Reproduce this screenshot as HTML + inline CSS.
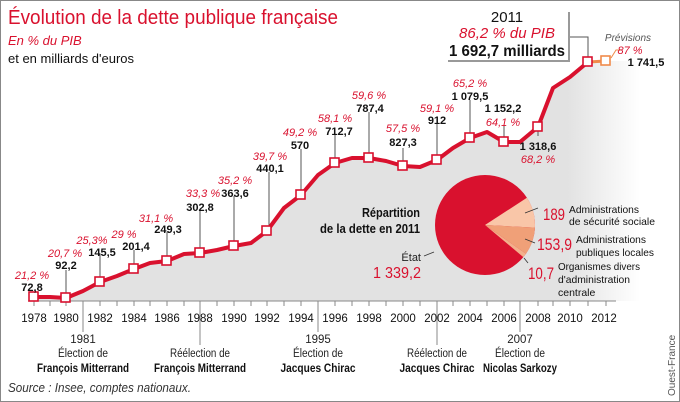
<!DOCTYPE html>
<html><head><meta charset="utf-8"><style>
body{margin:0;background:#fff}
svg{display:block;font-family:"Liberation Sans",sans-serif}
.p{fill:#d9112e;font-style:italic;font-size:11px}
.v{fill:#111;font-weight:bold;font-size:11px}
.y{font-size:11.5px;fill:#111}
.e{font-size:11.5px;fill:#222;text-anchor:middle}
.eb{font-size:11.5px;fill:#111;font-weight:bold;text-anchor:middle}
.s{font-size:10.5px;fill:#111}
</style></head><body>
<svg width="680" height="402" viewBox="0 0 680 402">
<defs>
<linearGradient id="g" x1="0" x2="1" y1="0" y2="0" gradientUnits="objectBoundingBox">
<stop offset="0" stop-color="#e2e2e2"/><stop offset="0.88" stop-color="#e2e2e2"/><stop offset="1" stop-color="#fff"/>
</linearGradient>
</defs>
<rect x="0.5" y="0.5" width="679" height="401" fill="#fff" stroke="#888"/>
<path d="M34,297 L50,297 66,298 83,291 100,282 117,276 134,269 150,263 167,261 184,254 200,253 217,250 234,246 251,243 267,231 284,208 301,195 318,175 335,163 352,158 369,158 386,161 403,166 420,167 437,160 453,148 470,138 487,132 504,142 520,142 538,127 553,88 570,77 588,62 606,61 640,61 640,301 34,301Z" fill="url(#g)"/>
<line x1="28" y1="301" x2="616" y2="301" stroke="#888" stroke-width="1"/>
<g stroke="#888" stroke-width="1">
<line x1="34" y1="301" x2="34" y2="306"/><line x1="50" y1="301" x2="50" y2="306"/><line x1="66" y1="301" x2="66" y2="306"/><line x1="100" y1="301" x2="100" y2="306"/><line x1="117" y1="301" x2="117" y2="306"/><line x1="134" y1="301" x2="134" y2="306"/><line x1="150" y1="301" x2="150" y2="306"/><line x1="167" y1="301" x2="167" y2="306"/><line x1="184" y1="301" x2="184" y2="306"/><line x1="217" y1="301" x2="217" y2="306"/><line x1="234" y1="301" x2="234" y2="306"/><line x1="251" y1="301" x2="251" y2="306"/><line x1="267" y1="301" x2="267" y2="306"/><line x1="284" y1="301" x2="284" y2="306"/><line x1="301" y1="301" x2="301" y2="306"/><line x1="335" y1="301" x2="335" y2="306"/><line x1="352" y1="301" x2="352" y2="306"/><line x1="369" y1="301" x2="369" y2="306"/><line x1="386" y1="301" x2="386" y2="306"/><line x1="403" y1="301" x2="403" y2="306"/><line x1="420" y1="301" x2="420" y2="306"/><line x1="453" y1="301" x2="453" y2="306"/><line x1="470" y1="301" x2="470" y2="306"/><line x1="487" y1="301" x2="487" y2="306"/><line x1="504" y1="301" x2="504" y2="306"/><line x1="538" y1="301" x2="538" y2="306"/><line x1="553" y1="301" x2="553" y2="306"/><line x1="570" y1="301" x2="570" y2="306"/><line x1="588" y1="301" x2="588" y2="306"/><line x1="606" y1="301" x2="606" y2="306"/>
<line x1="83" y1="301" x2="83" y2="332"/><line x1="200" y1="301" x2="200" y2="345"/><line x1="318" y1="301" x2="318" y2="332"/><line x1="437" y1="301" x2="437" y2="345"/><line x1="520" y1="301" x2="520" y2="332"/>
</g>
<g class="y" text-anchor="middle">
<text x="34" y="322">1978</text><text x="66" y="322">1980</text><text x="100" y="322">1982</text><text x="134" y="322">1984</text><text x="167" y="322">1986</text><text x="200" y="322">1988</text><text x="234" y="322">1990</text><text x="267" y="322">1992</text><text x="301" y="322">1994</text><text x="335" y="322">1996</text><text x="369" y="322">1998</text><text x="403" y="322">2000</text><text x="437" y="322">2002</text><text x="470" y="322">2004</text><text x="504" y="322">2006</text><text x="538" y="322">2008</text><text x="570" y="322">2010</text><text x="604" y="322">2012</text>
</g>
<text class="e" x="83" y="343" fill="#111">1981</text><text class="e" x="83" y="357" textLength="50" lengthAdjust="spacingAndGlyphs">Élection de</text><text class="eb" x="83" y="372" textLength="92" lengthAdjust="spacingAndGlyphs">François Mitterrand</text>
<text class="e" x="200" y="357" textLength="60" lengthAdjust="spacingAndGlyphs">Réélection de</text><text class="eb" x="200" y="372" textLength="92" lengthAdjust="spacingAndGlyphs">François Mitterrand</text>
<text class="e" x="318" y="343">1995</text><text class="e" x="318" y="357" textLength="50" lengthAdjust="spacingAndGlyphs">Élection de</text><text class="eb" x="318" y="372" textLength="75" lengthAdjust="spacingAndGlyphs">Jacques Chirac</text>
<text class="e" x="437" y="357" textLength="60" lengthAdjust="spacingAndGlyphs">Réélection de</text><text class="eb" x="437" y="372" textLength="75" lengthAdjust="spacingAndGlyphs">Jacques Chirac</text>
<text class="e" x="520" y="343">2007</text><text class="e" x="520" y="357" textLength="50" lengthAdjust="spacingAndGlyphs">Élection de</text><text class="eb" x="520" y="372" textLength="74" lengthAdjust="spacingAndGlyphs">Nicolas Sarkozy</text>
<g stroke="#555" stroke-width="1">
<line x1="66" y1="270" x2="66" y2="294"/><line x1="100" y1="254" x2="100" y2="278"/><line x1="134" y1="250" x2="134" y2="265"/><line x1="167" y1="232" x2="167" y2="257"/><line x1="200" y1="211" x2="200" y2="249"/><line x1="234" y1="196" x2="234" y2="242"/><line x1="269" y1="172" x2="269" y2="227"/><line x1="301" y1="149" x2="301" y2="191"/><line x1="335" y1="133" x2="335" y2="159"/><line x1="369" y1="112" x2="369" y2="154"/><line x1="403" y1="148" x2="403" y2="162"/><line x1="437" y1="124" x2="437" y2="156"/><line x1="470" y1="100" x2="470" y2="134"/><line x1="504" y1="126" x2="504" y2="138"/><line x1="538" y1="131" x2="538" y2="136"/>
<polyline points="568,37 588,37 588,58" fill="none"/>
</g>
<polyline points="611,58 616,50 622,50" fill="none" stroke="#f08a4a" stroke-width="1"/>
<polyline points="34,297 50,297 66,298 83,291 100,282 117,276 134,269 150,263 167,261 184,254 200,253 217,250 234,246 251,243 267,231 284,208 301,195 318,175 335,163 352,158 369,158 386,161 403,166 420,167 437,160 453,148 470,138 487,132 504,142 520,142 538,127 553,88 570,77 588,62" fill="none" stroke="#d9112e" stroke-width="4" stroke-linejoin="round"/>
<line x1="588" y1="62" x2="606" y2="61" stroke="#f08a4a" stroke-width="3"/>
<g fill="#fff" stroke="#d9112e" stroke-width="1.6">
<rect x="29" y="292" width="9" height="9"/><rect x="61" y="293" width="9" height="9"/><rect x="95" y="277" width="9" height="9"/><rect x="129" y="264" width="9" height="9"/><rect x="162" y="256" width="9" height="9"/><rect x="195" y="248" width="9" height="9"/><rect x="229" y="241" width="9" height="9"/><rect x="262" y="226" width="9" height="9"/><rect x="296" y="190" width="9" height="9"/><rect x="330" y="158" width="9" height="9"/><rect x="364" y="153" width="9" height="9"/><rect x="398" y="161" width="9" height="9"/><rect x="432" y="155" width="9" height="9"/><rect x="465" y="133" width="9" height="9"/><rect x="499" y="137" width="9" height="9"/><rect x="533" y="122" width="9" height="9"/><rect x="583" y="57" width="9" height="9"/>
</g>
<rect x="601" y="56" width="9" height="9" fill="#fff" stroke="#f08a4a" stroke-width="1.6"/>
<g text-anchor="middle">
<text class="p" x="32" y="279">21,2 %</text><text class="v" x="32" y="291">72,8</text>
<text class="p" x="65" y="257">20,7 %</text><text class="v" x="66" y="269">92,2</text>
<text class="p" x="92" y="244">25,3%</text><text class="v" x="102" y="256">145,5</text>
<text class="p" x="124" y="238">29 %</text><text class="v" x="136" y="250">201,4</text>
<text class="p" x="156" y="222">31,1 %</text><text class="v" x="168" y="233">249,3</text>
<text class="p" x="203" y="197">33,3 %</text><text class="v" x="200" y="211">302,8</text>
<text class="p" x="235" y="184">35,2 %</text><text class="v" x="235" y="197">363,6</text>
<text class="p" x="270" y="160">39,7 %</text><text class="v" x="270" y="172">440,1</text>
<text class="p" x="300" y="136">49,2 %</text><text class="v" x="300" y="149">570</text>
<text class="p" x="335" y="122">58,1 %</text><text class="v" x="339" y="135">712,7</text>
<text class="p" x="369" y="99">59,6 %</text><text class="v" x="370" y="112">787,4</text>
<text class="p" x="403" y="132">57,5 %</text><text class="v" x="403" y="146">827,3</text>
<text class="p" x="437" y="112">59,1 %</text><text class="v" x="437" y="124">912</text>
<text class="p" x="470" y="87">65,2 %</text><text class="v" x="470" y="100">1 079,5</text>
<text class="v" x="503" y="112">1 152,2</text><text class="p" x="503" y="126">64,1 %</text>
<text class="v" x="538" y="150">1 318,6</text><text class="p" x="538" y="163">68,2 %</text>
<text x="628" y="41" font-size="10" font-style="italic" fill="#555">Prévisions</text>
<text x="630" y="54" font-size="11" font-style="italic" fill="#d9112e">87 %</text>
<text class="v" x="646" y="66">1 741,5</text>
</g>
<rect x="448" y="12" width="122" height="50" fill="#999"/>
<rect x="446" y="10" width="122" height="50" fill="#fff"/>
<text x="507" y="22" text-anchor="middle" font-size="15" fill="#111">2011</text>
<text x="507" y="38" text-anchor="middle" font-size="15" font-style="italic" fill="#d9112e">86,2 % du PIB</text>
<text x="507" y="56" text-anchor="middle" font-size="16" font-weight="bold" fill="#111" textLength="116" lengthAdjust="spacingAndGlyphs">1 692,7 milliards</text>
<text x="8" y="24" font-size="20" fill="#d9112e" textLength="330" lengthAdjust="spacingAndGlyphs">Évolution de la dette publique française</text>
<text x="8" y="45" font-size="13" font-style="italic" fill="#d9112e">En % du PIB</text>
<text x="8" y="63" font-size="13" fill="#111">et en milliards d'euros</text>
<circle cx="485" cy="225" r="50" fill="#d9112e"/>
<path d="M485,225 L526.9,197.8 A50,50 0 0 1 534.9,227.6 Z" fill="#f9c6a8"/>
<path d="M485,225 L534.9,227.6 A50,50 0 0 1 526,253.7 Z" fill="#f0a078"/>
<path d="M485,225 L526,253.7 A50,50 0 0 1 523.3,257.1 Z" fill="#f3b08c"/>
<g stroke="#333" stroke-width="0.8"><line x1="525" y1="213" x2="538" y2="208"/><line x1="525" y1="239" x2="535" y2="243"/><line x1="524" y1="258" x2="528" y2="263"/><line x1="424" y1="256" x2="434" y2="252"/></g>
<text x="420" y="217" text-anchor="end" font-size="13" font-weight="bold" fill="#111" textLength="58" lengthAdjust="spacingAndGlyphs">Répartition</text>
<text x="420" y="233" text-anchor="end" font-size="13" font-weight="bold" fill="#111" textLength="100" lengthAdjust="spacingAndGlyphs">de la dette en 2011</text>
<text x="421" y="261" text-anchor="end" font-size="11" fill="#222">État</text>
<text x="421" y="278" text-anchor="end" font-size="16" fill="#d9112e" textLength="48" lengthAdjust="spacingAndGlyphs">1 339,2</text>
<text x="543" y="220" font-size="17" fill="#d9112e" textLength="22" lengthAdjust="spacingAndGlyphs">189</text>
<text x="569" y="213" class="s" textLength="70" lengthAdjust="spacingAndGlyphs">Administrations</text><text x="569" y="225" class="s" textLength="86" lengthAdjust="spacingAndGlyphs">de sécurité sociale</text>
<text x="537" y="250" font-size="17" fill="#d9112e" textLength="35" lengthAdjust="spacingAndGlyphs">153,9</text>
<text x="576" y="243" class="s" textLength="70" lengthAdjust="spacingAndGlyphs">Administrations</text><text x="576" y="256" class="s" textLength="78" lengthAdjust="spacingAndGlyphs">publiques locales</text>
<text x="528" y="279" font-size="17" fill="#d9112e" textLength="26" lengthAdjust="spacingAndGlyphs">10,7</text>
<text x="558" y="270" class="s" textLength="82" lengthAdjust="spacingAndGlyphs">Organismes divers</text><text x="558" y="283" class="s" textLength="72" lengthAdjust="spacingAndGlyphs">d'administration</text><text x="558" y="296" class="s">centrale</text>
<text x="8" y="392" font-size="12.5" font-style="italic" fill="#333" textLength="183" lengthAdjust="spacingAndGlyphs">Source : Insee, comptes nationaux.</text>
<text transform="translate(675,396) rotate(-90)" font-size="10" fill="#555">Ouest-France</text>
</svg>
</body></html>
